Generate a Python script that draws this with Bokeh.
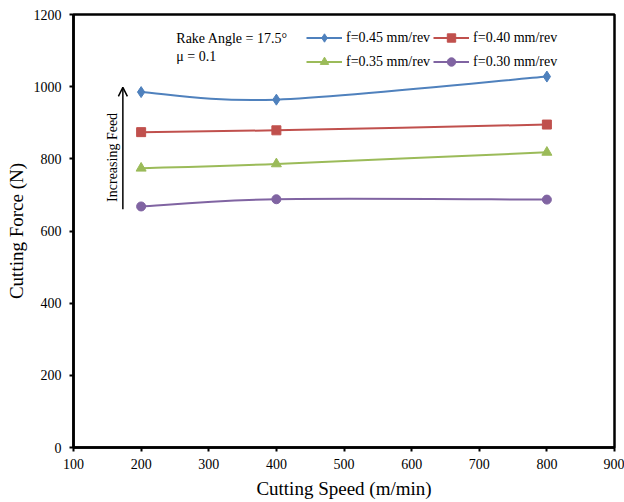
from bokeh.plotting import figure
from bokeh.models import (Range1d, FixedTicker, Legend, LegendItem, Label, Arrow, OpenHead)
from bokeh.embed import file_html
from bokeh.resources import INLINE

speeds = [200, 400, 800]
f045 = [985, 964, 1028]
f040 = [874, 879, 895]
f035 = [774, 786, 818]
f030 = [668, 688, 687]
series_labels = ["f=0.45 mm/rev", "f=0.40 mm/rev", "f=0.35 mm/rev", "f=0.30 mm/rev"]
x_ticks = [100, 200, 300, 400, 500, 600, 700, 800, 900]
y_ticks = [0, 200, 400, 600, 800, 1000, 1200]

FONT = "Liberation Serif"
colors = ["#4F81BD", "#C0504D", "#9BBB59", "#8064A2"]
markers = ["diamond", "square", "triangle", "circle"]
msizes = [11, 9, 10, 9]

p = figure(width=624, height=502, output_backend="svg", toolbar_location=None,
           x_range=Range1d(100, 900), y_range=Range1d(0, 1200),
           min_border_left=73, min_border_right=10, min_border_top=14, min_border_bottom=55)
p.xgrid.visible = False
p.ygrid.visible = False
p.outline_line_color = "black"
p.outline_line_width = 2.5
p.background_fill_color = "white"
p.border_fill_color = "white"

for ax in (p.xaxis[0], p.yaxis[0]):
    ax.axis_line_color = "black"
    ax.axis_line_width = 2.5
    ax.major_tick_line_color = "black"
    ax.major_tick_line_width = 2
    ax.major_tick_out = 4
    ax.major_tick_in = 0
    ax.minor_tick_line_color = None
    ax.major_label_text_font = FONT
    ax.major_label_text_font_size = "14px"
    ax.major_label_text_color = "black"
    ax.axis_label_text_font = FONT
    ax.axis_label_text_font_size = "19px"
    ax.axis_label_text_font_style = "normal"
    ax.axis_label_text_color = "black"

p.xaxis.ticker = FixedTicker(ticks=x_ticks)
p.yaxis.ticker = FixedTicker(ticks=y_ticks)
p.xaxis.axis_label = "Cutting Speed (m/min)"
p.yaxis.axis_label = "Cutting Force (N)"
p.xaxis.major_label_standoff = 7
p.xaxis.axis_label_standoff = 6
p.yaxis.major_label_standoff = 8
p.yaxis.axis_label_standoff = 4


def smooth_segments(xs, ys):
    n = len(xs)
    segs = dict(x0=[], y0=[], x1=[], y1=[], cx0=[], cy0=[], cx1=[], cy1=[])
    for i in range(n - 1):
        i0 = max(i - 1, 0)
        i3 = min(i + 2, n - 1)
        segs["x0"].append(xs[i]); segs["y0"].append(ys[i])
        segs["x1"].append(xs[i + 1]); segs["y1"].append(ys[i + 1])
        segs["cx0"].append(xs[i] + (xs[i + 1] - xs[i0]) / 6)
        segs["cy0"].append(ys[i] + (ys[i + 1] - ys[i0]) / 6)
        segs["cx1"].append(xs[i + 1] - (xs[i3] - xs[i]) / 6)
        segs["cy1"].append(ys[i + 1] - (ys[i3] - ys[i]) / 6)
    return segs


items = []
for vals, lab, c, m, s in zip([f045, f040, f035, f030], series_labels, colors, markers, msizes):
    seg = smooth_segments(speeds, vals)
    rb = p.bezier(x0=seg["x0"], y0=seg["y0"], x1=seg["x1"], y1=seg["y1"],
                  cx0=seg["cx0"], cy0=seg["cy0"], cx1=seg["cx1"], cy1=seg["cy1"],
                  line_color=c, line_width=2)
    rs = p.scatter(speeds, vals, marker=m, size=s, fill_color=c, line_color=c)
    items.append(LegendItem(label=lab, renderers=[rb, rs]))

legend = Legend(items=items, ncols=2, orientation="horizontal", location=(233, 375),
                border_line_color=None, background_fill_alpha=0,
                padding=0, margin=0, spacing=3,
                glyph_width=36, glyph_height=21, label_height=21,
                label_standoff=4, label_text_font=FONT, label_text_font_size="14px",
                label_text_color="black")
p.add_layout(legend, "center")

p.add_layout(Label(x=252, y=1134, text="Rake Angle = 17.5°", text_font=FONT,
                   text_font_size="14px", text_baseline="middle", text_color="black"))
p.add_layout(Label(x=252, y=1084, text="μ = 0.1", text_font=FONT,
                   text_font_size="14px", text_baseline="middle", text_color="black"))
p.add_layout(Arrow(end=OpenHead(size=9, line_width=1.5, line_color="black"),
                   x_start=173, y_start=660, x_end=173, y_end=998,
                   line_width=1.5, line_color="black"))
p.add_layout(Label(x=157, y=804, text="Increasing Feed", angle=1.5708,
                   text_font=FONT, text_font_size="14px", text_align="center",
                   text_baseline="middle", text_color="black"))

open("out.html", "w").write(file_html(p, INLINE))
